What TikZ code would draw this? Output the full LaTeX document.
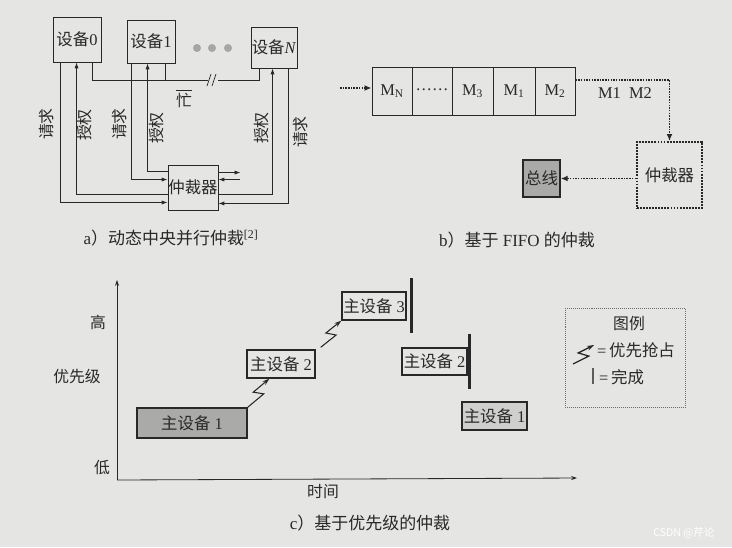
\documentclass[tikz,border=0pt]{standalone}
\usepackage{fontspec}
\setmainfont{Liberation Serif}
\newfontfamily\cjk{Noto Sans CJK SC}
\usetikzlibrary{arrows.meta,calc}
\newcommand\zh[1]{{\cjk #1}}
\newcommand\zfont{\fontsize{13.5}{15}\selectfont\cjk}
\definecolor{paper}{RGB}{229,229,227}
\definecolor{ink}{RGB}{40,40,40}
\definecolor{boxgray}{RGB}{170,170,168}
\begin{document}
\begin{tikzpicture}[x=0.03cm,y=-0.03cm,
  font=\fontsize{14}{16}\selectfont, color=ink,
  box/.style={draw=ink, line width=0.8pt, inner sep=0pt, align=center},
  arr/.style={-{Latex[length=5pt,width=3.5pt]}, line width=0.6pt},
  plain/.style={line width=0.6pt},
  dotarr/.style={densely dotted, line width=1.3pt, -{Latex[length=6pt,width=5pt]}},
  vlabel/.style={rotate=90, font=\zfont},
  zlabel/.style={font=\zfont},
  mbox/.style={draw=ink, line width=1.2pt, inner sep=0pt},
  bar/.style={line width=2.2pt},
  bolt/.style={line width=0.9pt, -{Stealth[length=6pt,width=4pt]}},
  captext/.style={font=\fontsize{14.5}{16}\selectfont}
]
\useasboundingbox (0,0) rectangle (732,547);
\fill[paper] (0,0) rectangle (732,547);

% ---------------- panel a ----------------
\node[box, minimum width=1.44cm, minimum height=1.35cm] (d0) at (77,39.5) {\zh{设备}0};
\node[box, minimum width=1.44cm, minimum height=1.29cm] (d1) at (151,41.5) {\zh{设备}1};
\node[box, minimum width=1.38cm, minimum height=1.23cm] (dN) at (274,47.5) {\zh{设备}\textit{N}};
\node[box, minimum width=1.5cm, minimum height=1.35cm] (arb) at (193,187.5) {\zh{仲裁器}};
\foreach \x in {197,212,228} \fill[gray!70] (\x,48) circle (4);

% busy line
\coordinate (gapL) at (208,80);
\coordinate (gapR) at (218,80);
\draw[plain] ($(d0.south west)+(40,0)$) |- (gapL);
\draw[plain] (gapR) -| ($(dN.south west)+(9,0)$);
\draw[plain] ($(d1.south west)+(39,0)$) -- ($(d1.south west)+(39,17)$);
\draw[plain] (207,86) -- (211,74);
\draw[plain] (212,86) -- (216,74);
\node[zlabel, inner sep=1pt] (busy) at (184,100) {忙};
\draw[plain] ($(busy.north west)+(1,-1)$) -- ($(busy.north east)+(-1,-1)$);

% request / grant lines
\draw[arr] ($(d0.south west)+(8,0)$) |- ($(arb.south west)+(0,-8)$);
\draw[arr] ($(arb.south west)+(0,-16)$) -| ($(d0.south west)+(24,0)$);
\draw[arr] ($(d1.south west)+(5,0)$) |- ($(arb.north west)+(0,15)$);
\draw[arr] ($(arb.north west)+(0,7)$) -| ($(d1.south west)+(21,0)$);
\draw[arr] ($(arb.south east)+(0,-16)$) -| ($(dN.south west)+(22,0)$);
\draw[arr] ($(dN.south west)+(38,0)$) |- ($(arb.south east)+(0,-7)$);
\coordinate (o1) at ($(arb.north east)+(22,8)$);
\coordinate (o2) at ($(arb.north east)+(22,15)$);
\draw[arr] ($(arb.north east)+(0,8)$) -- (o1);
\draw[arr] (o2) -- ($(arb.north east)+(0,15)$);

\node[vlabel] (l1) at (47,124) {请求};
\node[vlabel] (l2) at (85,125) {授权};
\node[vlabel] (l3) at (120,124) {请求};
\node[vlabel] (l4) at (157,128) {授权};
\node[vlabel] (l5) at (262,128) {授权};
\node[vlabel] (l6) at (301,132) {请求};

\node[captext] (capa) at (171,238) {a\zh{）动态中央并行仲裁}\textsuperscript{[2]}};

% ---------------- panel b ----------------
\node[box, minimum width=1.2cm, minimum height=1.44cm] (q1) at (392,91) {M\textsubscript{N}};
\node[box, minimum width=1.2cm, minimum height=1.44cm] (q2) at (432,91) {\raisebox{2pt}{\ldots\ldots}};
\node[box, minimum width=1.23cm, minimum height=1.44cm] (q3) at (472.5,91) {M\textsubscript{3}};
\node[box, minimum width=1.26cm, minimum height=1.44cm] (q4) at (514,91) {M\textsubscript{1}};
\node[box, minimum width=1.2cm, minimum height=1.44cm] (q5) at (555,91) {M\textsubscript{2}};
\node[draw=ink, densely dotted, line width=1.6pt, minimum width=1.95cm, minimum height=1.98cm, inner sep=0pt] (arbb) at (669.5,175) {\zh{仲裁器}};
\node[box, line width=1.2pt, fill=boxgray, minimum width=1.11cm, minimum height=1.11cm] (bus) at (541.5,178.5) {\zh{总线}};
\coordinate (qin) at (340,88);
\draw[dotarr] (qin) -- (qin -| q1.west);
\draw[dotarr] (q5.east |- 0,80) -| (arbb.north);
\draw[dotarr] (arbb.west |- bus.east) -- (bus.east);
\node (m12) at (625,93) {M1\ \ M2};
\node[captext] (capb) at (517,240) {b\zh{）基于} FIFO \zh{的仲裁}};

% ---------------- panel c ----------------
\coordinate (O) at (117,480);
\coordinate (ytop) at (117,280);
\coordinate (xend) at (577,478);
\draw[-{Stealth[length=5pt,width=3.5pt]}, line width=0.7pt] (O) -- (ytop);
\draw[-{Stealth[length=5pt,width=3.5pt]}, line width=0.7pt] (O) -- (xend);
\node[zlabel] (hi) at (98,322) {高};
\node[zlabel] (pri) at (77,377) {优先级};
\node[zlabel] (lo) at (102,468) {低};
\node[zlabel] (time) at (323,492) {时间};

\node[mbox, fill=boxgray, minimum width=3.3cm, minimum height=0.9cm] (m1) at (192,423) {\zh{主设备} 1};
\node[mbox, minimum width=2.04cm, minimum height=0.84cm] (m2) at (281,364) {\zh{主设备} 2};
\node[mbox, minimum width=1.92cm, minimum height=0.84cm] (m3) at (374,306) {\zh{主设备} 3};
\node[mbox, minimum width=1.95cm, minimum height=0.81cm] (m2b) at (434.5,361.5) {\zh{主设备} 2};
\node[mbox, line width=1.5pt, fill=gray!22!paper, minimum width=1.95cm, minimum height=0.84cm] (m1b) at (494.5,416) {\zh{主设备} 1};
\draw[bar] ($(m3.east)+(5,-28)$) -- ($(m3.east)+(5,27)$);
\draw[bar] ($(m2b.east)+(2,-28)$) -- ($(m2b.east)+(2,27)$);

% bolts
\coordinate (A1) at (m1.north east);
\coordinate (B1) at ($(m2.south west)+(23,0)$);
\coordinate (A2) at ($(m2.north east)+(5,-2)$);
\coordinate (B2) at (m3.south west);
\foreach \a/\b in {A1/B1,A2/B2}{
  \draw[bolt] (\a) -- ($(\a)!0.57!(\b)!4pt!-90:(\b)$) -- ($(\a)!0.43!(\b)!4pt!90:(\b)$) -- (\b);
}

% legend
\node[draw=gray!80!ink, densely dotted, line width=0.7pt, minimum width=3.6cm, minimum height=2.97cm] (leg) at (625,357.5) {};
\node[zlabel] (legt) at (629,323) {图例};
\coordinate (LA) at (573,364);
\coordinate (LB) at (594,345);
\draw[bolt, line width=1.1pt] (LA) -- ($(LA)!0.6!(LB)!4pt!-90:(LB)$) -- ($(LA)!0.4!(LB)!4pt!90:(LB)$) -- (LB);
\node[anchor=west, inner sep=0pt] (leg1) at (597,350) {=\,\zh{优先抢占}};
\draw[line width=1pt, gray!60!ink] (593,368) -- (593,384);
\node[anchor=west, inner sep=0pt] (leg2) at (599,377) {=\,\zh{完成}};

\node[captext] (capc) at (370,523) {c\zh{）基于优先级的仲裁}};

\node[font=\fontsize{9}{10}\selectfont\cjk, text=white] (wm) at (684,533) {CSDN @芹论};
\end{tikzpicture}
\end{document}
